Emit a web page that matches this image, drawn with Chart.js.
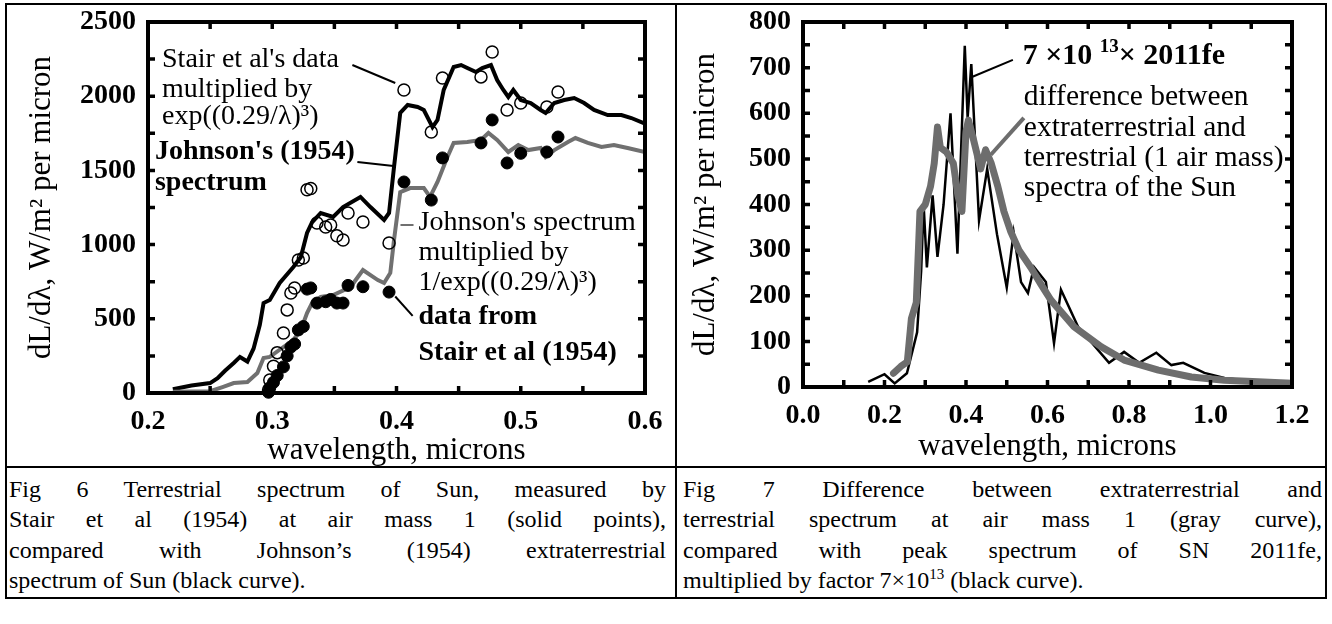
<!DOCTYPE html>
<html>
<head>
<meta charset="utf-8">
<script src="https://cdn.jsdelivr.net/npm/chart.js@4.4.1/dist/chart.umd.min.js"></script>
<style>
  body { margin: 0; width: 1332px; height: 624px; background: #fff; position: relative; overflow: hidden;
         font-family: "Liberation Serif", "Times New Roman", serif; color: #000; }
  .box { position: absolute; left: 5px; top: 3px; width: 1318px; height: 592px; border: 2px solid #000; }
  .vline { position: absolute; left: 675px; top: 3px; width: 2px; height: 596px; background: #000; }
  .hline { position: absolute; left: 5px; top: 466px; width: 1322px; height: 2px; background: #000; }
  canvas { position: absolute; }
  #fig6 { left: 6px; top: 4px; }
  #fig7 { left: 678px; top: 4px; }
  .caption { position: absolute; top: 474px; font-size: 24px; line-height: 30.3px; }
  .caption div { text-align: justify; text-align-last: justify; white-space: normal; }
  .caption div.last { text-align-last: left; }
  .caption sup { font-size: 15px; line-height: 0; }
  #cap6 { left: 9px; width: 657px; }
  #cap7 { left: 683px; width: 639px; }
</style>
</head>
<body>
<div class="box"></div>
<div class="vline"></div>
<div class="hline"></div>
<canvas id="fig6" width="668" height="462"></canvas>
<canvas id="fig7" width="645" height="462"></canvas>
<div class="caption" id="cap6">
  <div>Fig 6 Terrestrial spectrum of Sun, measured by</div>
  <div>Stair et al (1954) at air mass 1 (solid points),</div>
  <div>compared with Johnson’s (1954) extraterrestrial</div>
  <div class="last">spectrum of Sun (black curve).</div>
</div>
<div class="caption" id="cap7">
  <div>Fig 7 Difference between extraterrestrial and</div>
  <div>terrestrial spectrum at air mass 1 (gray curve),</div>
  <div>compared with peak spectrum of SN 2011fe,</div>
  <div class="last">multiplied by factor 7×10<sup>13</sup> (black curve).</div>
</div>
<script>
// ---- Fig 6: Johnson (1954) extraterrestrial spectrum, dL/dλ in W/m² per micron ----
const johnsonWl = [0.220, 0.235, 0.250, 0.256, 0.262, 0.269, 0.274, 0.280, 0.285, 0.290, 0.293, 0.298, 0.306,
  0.317, 0.323, 0.328, 0.332, 0.339, 0.349, 0.357, 0.371, 0.379, 0.390, 0.394, 0.398, 0.403, 0.409, 0.417,
  0.422, 0.429, 0.433, 0.438, 0.446, 0.452, 0.457, 0.464, 0.469, 0.476, 0.481, 0.486, 0.490, 0.494, 0.500,
  0.508, 0.516, 0.520, 0.527, 0.535, 0.543, 0.551, 0.559, 0.570, 0.581, 0.589, 0.600];
const johnsonVal = [25, 50, 67, 100, 150, 202, 243, 212, 300, 460, 606, 627, 741,
  849, 916, 1078, 1150, 1213, 1186, 1253, 1321, 1253, 1166, 1213, 1523, 1887, 1941, 1927,
  1907, 1792, 1840, 2042, 2197, 2210, 2190, 2163, 2190, 2210, 2109, 2042, 1995, 2042, 1974,
  1954, 1907, 1887, 1954, 1974, 1988, 1954, 1907, 1873, 1873, 1853, 1815];

// Johnson's spectrum multiplied by 1/exp((0.29/λ)^3) (gray curve)
const reducedWl = [0.220, 0.250, 0.260, 0.269, 0.280, 0.288, 0.293, 0.298, 0.309, 0.317, 0.323, 0.328, 0.332,
  0.339, 0.349, 0.363, 0.373, 0.385, 0.390, 0.395, 0.398, 0.403, 0.411, 0.422, 0.427, 0.433, 0.441, 0.446,
  0.457, 0.468, 0.474, 0.481, 0.490, 0.498, 0.506, 0.516, 0.520, 0.527, 0.538, 0.544, 0.554, 0.565, 0.575,
  0.586, 0.600];
const reducedVal = [8, 12, 40, 67, 74, 135, 236, 243, 310, 357, 425, 539, 606,
  647, 660, 714, 829, 761, 741, 809, 1031, 1354, 1381, 1381, 1321, 1422, 1590, 1685,
  1691, 1705, 1752, 1705, 1624, 1671, 1637, 1651, 1590, 1637, 1691, 1718, 1685, 1658, 1671,
  1651, 1624];

// Stair et al (1954) points: measured (solid) and multiplied by exp((0.29/λ)^3) (open)
const stairWl = [0.297, 0.298, 0.301, 0.304, 0.309, 0.312, 0.315, 0.318, 0.321, 0.325, 0.328, 0.331, 0.336,
  0.343, 0.347, 0.352, 0.357, 0.361, 0.373, 0.394, 0.406, 0.428, 0.437, 0.468, 0.477, 0.489, 0.500, 0.521, 0.530];
const stairVal = [5, 35, 72, 118, 176, 250, 310, 330, 425, 448, 700, 708, 606,
  615, 630, 606, 606, 725, 716, 680, 1422, 1300, 1584, 1685, 1840, 1550, 1615, 1624, 1725];
const stairCorrVal = [20, 88, 180, 272, 404, 560, 674, 708, 896, 910, 1370, 1378, 1146,
  1119, 1132, 1060, 1031, 1213, 1152, 1011, 2042, 1759, 2123, 2130, 2298, 1907, 1954, 1927, 2028];

// ---- Fig 7: 7e13 x SN 2011fe (black) and extraterrestrial - terrestrial difference (gray) ----
const snWl = [0.160, 0.200, 0.225, 0.255, 0.280, 0.290, 0.296, 0.304, 0.318, 0.330, 0.345, 0.362, 0.379,
  0.397, 0.404, 0.413, 0.432, 0.452, 0.476, 0.500, 0.517, 0.535, 0.552, 0.567, 0.596, 0.616, 0.633,
  0.675, 0.751, 0.788, 0.825, 0.867, 0.904, 0.933, 0.985, 1.034, 1.118, 1.200];
const snVal = [11, 28, 8, 30, 120, 255, 400, 262, 420, 285, 400, 600, 292,
  748, 590, 708, 365, 478, 335, 218, 338, 230, 206, 263, 230, 96, 213,
  132, 53, 77, 53, 75, 48, 53, 31, 20, 11, 8];

const diffWl = [0.222, 0.240, 0.256, 0.266, 0.278, 0.287, 0.300, 0.313, 0.322, 0.330, 0.337, 0.352, 0.369,
  0.380, 0.390, 0.400, 0.406, 0.419, 0.436, 0.448, 0.462, 0.478, 0.493, 0.510, 0.530, 0.559, 0.584,
  0.608, 0.665, 0.732, 0.788, 0.872, 0.953, 1.034, 1.200];
const diffVal = [30, 45, 55, 150, 185, 385, 400, 440, 490, 570, 525, 515, 490,
  420, 385, 560, 585, 540, 478, 520, 490, 440, 385, 340, 300, 262, 225,
  191, 132, 88, 59, 37, 22, 15, 8];

// оси
const fig6XRange = [0.2, 0.6];
const fig6YRange = [0, 2500];
const fig7XRange = [0, 1.2];
const fig7YRange = [0, 800];

const SERIF = "'Liberation Serif', 'Times New Roman', serif";
Chart.defaults.font.family = SERIF;
Chart.defaults.color = "#000";

const toXY = (xs, ys) => xs.map((x, i) => ({ x: x, y: ys[i] }));

// фиксированный размер оси, без добавочных отступов под подписи
function fixAxis(size, vertical) {
  return (s) => {
    if (vertical) s.width = size; else s.height = size;
    s.paddingTop = 0; s.paddingBottom = 0; s.paddingLeft = 0; s.paddingRight = 0;
  };
}

// рамка графика и внутренние засечки
const frameTicksPlugin = {
  id: "frameTicks",
  afterDatasetsDraw(chart, args, opts) {
    const { ctx, chartArea: a, scales: { x, y } } = chart;
    ctx.save();
    ctx.strokeStyle = "#000";
    ctx.lineWidth = 3.5;
    ctx.beginPath();
    const nx = Math.round((x.max - x.min) / opts.xStep);
    for (let i = 1; i < nx; i++) {
      const px = x.getPixelForValue(x.min + i * opts.xStep);
      ctx.moveTo(px, a.bottom); ctx.lineTo(px, a.bottom - opts.len);
      ctx.moveTo(px, a.top); ctx.lineTo(px, a.top + opts.len);
    }
    const ny = Math.round((y.max - y.min) / opts.yStep);
    for (let i = 1; i < ny; i++) {
      const py = y.getPixelForValue(y.min + i * opts.yStep);
      ctx.moveTo(a.left, py); ctx.lineTo(a.left + opts.len, py);
      ctx.moveTo(a.right, py); ctx.lineTo(a.right - opts.len, py);
    }
    ctx.stroke();
    ctx.lineWidth = 4;
    ctx.strokeRect(a.left, a.top, a.right - a.left, a.bottom - a.top);
    ctx.restore();
  },
};

// подписи с выносками
const notesPlugin = {
  id: "notes",
  afterDatasetsDraw(chart, args, opts) {
    const { ctx, scales: { x, y } } = chart;
    ctx.save();
    for (const l of opts.leaders) {
      ctx.strokeStyle = l.color;
      ctx.lineWidth = l.width;
      ctx.beginPath();
      ctx.moveTo(x.getPixelForValue(l.from[0]), y.getPixelForValue(l.from[1]));
      ctx.lineTo(x.getPixelForValue(l.to[0]), y.getPixelForValue(l.to[1]));
      ctx.stroke();
    }
    ctx.fillStyle = "#000";
    ctx.textAlign = "left";
    ctx.textBaseline = "middle";
    for (const t of opts.texts) {
      let px = x.getPixelForValue(t.x);
      const py = y.getPixelForValue(t.y);
      const parts = Array.isArray(t.text) ? t.text : [{ s: t.text }];
      for (const p of parts) {
        ctx.font = p.sup ? t.supFont : t.font;
        ctx.fillText(p.s, px, p.sup ? py - 10 : py);
        px += ctx.measureText(p.s).width;
      }
    }
    ctx.restore();
  },
};

const tickFont = { size: 28, weight: "bold", family: SERIF };
const titleFont = { size: 31, family: SERIF, lineHeight: 1 };
const noteFont = "28px " + SERIF;
const noteBold = "bold 28px " + SERIF;
const noteFont7 = "29.5px " + SERIF;

new Chart(document.getElementById("fig6"), {
  type: "scatter",
  data: {
    datasets: [
      { data: toXY(stairWl, stairVal), pointRadius: 6, borderWidth: 1, borderColor: "#000",
        backgroundColor: "#000", order: 0, clip: false },
      { data: toXY(stairWl, stairCorrVal), pointRadius: 6, borderWidth: 1.5, borderColor: "#000",
        backgroundColor: "rgba(255,255,255,0)", order: 1, clip: false },
      { data: toXY(reducedWl, reducedVal), showLine: true, pointRadius: 0, borderColor: "#707070",
        borderWidth: 4, order: 2 },
      { data: toXY(johnsonWl, johnsonVal), showLine: true, pointRadius: 0, borderColor: "#000",
        borderWidth: 4, order: 3 },
    ],
  },
  plugins: [frameTicksPlugin, notesPlugin],
  options: {
    responsive: false,
    animation: false,
    devicePixelRatio: 1,
    layout: { autoPadding: false, padding: { top: 18, right: 29, left: 0, bottom: 0 } },
    scales: {
      x: {
        type: "linear", min: fig6XRange[0], max: fig6XRange[1],
        ticks: { stepSize: 0.1, font: tickFont, padding: 12, maxRotation: 0,
          callback: (v) => v.toFixed(1) },
        grid: { display: false, drawTicks: false },
        border: { display: false },
        title: { display: true, text: "wavelength, microns", font: titleFont, padding: { top: 0, bottom: 0 } },
        afterFit: fixAxis(73, false),
      },
      y: {
        min: fig6YRange[0], max: fig6YRange[1],
        ticks: { stepSize: 500, font: tickFont, padding: 12, callback: (v) => String(v) },
        grid: { display: false, drawTicks: false },
        border: { display: false },
        title: { display: true, text: "dL/dλ, W/m² per micron", font: titleFont, padding: { top: 20, bottom: 0 } },
        afterFit: fixAxis(142, true),
      },
    },
    plugins: {
      legend: { display: false },
      tooltip: { enabled: false },
      frameTicks: { xStep: 0.05, yStep: 250, len: 7 },
      notes: {
        texts: [
          { x: 0.2113, y: 2244, text: "Stair et al's data", font: noteFont },
          { x: 0.2113, y: 2042, text: "multiplied by", font: noteFont },
          { x: 0.2113, y: 1860, text: "exp((0.29/λ)³)", font: noteFont },
          { x: 0.2056, y: 1624, text: "Johnson's (1954)", font: noteBold },
          { x: 0.2056, y: 1415, text: "spectrum", font: noteBold },
          { x: 0.4177, y: 1146, text: "Johnson's spectrum", font: noteFont },
          { x: 0.4177, y: 943, text: "multiplied by", font: noteFont },
          { x: 0.4177, y: 741, text: "1/exp((0.29/λ)³)", font: noteFont },
          { x: 0.4177, y: 512, text: "data from", font: noteBold },
          { x: 0.4177, y: 270, text: "Stair et al (1954)", font: noteBold },
        ],
        leaders: [
          { from: [0.3645, 2210], to: [0.3990, 2089], color: "#000", width: 2 },
          { from: [0.3685, 1557], to: [0.3976, 1530], color: "#000", width: 2 },
          { from: [0.4032, 1132], to: [0.4137, 1132], color: "#707070", width: 2 },
          { from: [0.3990, 650], to: [0.4130, 520], color: "#000", width: 2 },
        ],
      },
    },
  },
});

new Chart(document.getElementById("fig7"), {
  type: "scatter",
  data: {
    datasets: [
      { data: toXY(diffWl, diffVal), showLine: true, pointRadius: 0, borderColor: "#6d6d6d",
        borderWidth: 7, borderJoinStyle: "round", borderCapStyle: "round", order: 0 },
      { data: toXY(snWl, snVal), showLine: true, pointRadius: 0, borderColor: "#000",
        borderWidth: 2.5, order: 1 },
    ],
  },
  plugins: [frameTicksPlugin, notesPlugin],
  options: {
    responsive: false,
    animation: false,
    devicePixelRatio: 1,
    layout: { autoPadding: false, padding: { top: 18, right: 31, left: 0, bottom: 0 } },
    scales: {
      x: {
        type: "linear", min: fig7XRange[0], max: fig7XRange[1],
        ticks: { stepSize: 0.2, font: tickFont, padding: 12, maxRotation: 0,
          callback: (v) => v.toFixed(1) },
        grid: { display: false, drawTicks: false },
        border: { display: false },
        title: { display: true, text: "wavelength, microns", font: titleFont, padding: { top: 0, bottom: 4 } },
        afterFit: fixAxis(79, false),
      },
      y: {
        min: fig7YRange[0], max: fig7YRange[1],
        ticks: { stepSize: 100, font: tickFont, padding: 12, callback: (v) => String(v) },
        grid: { display: false, drawTicks: false },
        border: { display: false },
        title: { display: true, text: "dL/dλ, W/m² per micron", font: titleFont, padding: { top: 12, bottom: 0 } },
        afterFit: fixAxis(125, true),
      },
    },
    plugins: {
      legend: { display: false },
      tooltip: { enabled: false },
      frameTicks: { xStep: 0.1, yStep: 50, len: 7 },
      notes: {
        texts: [
          { x: 0.539, y: 724, font: "bold 30px " + SERIF, supFont: "bold 19px " + SERIF,
            text: [{ s: "7 ×10 " }, { s: "13", sup: true }, { s: "× 2011fe" }] },
          { x: 0.542, y: 636, text: "difference between", font: noteFont7 },
          { x: 0.542, y: 568, text: "extraterrestrial and", font: noteFont7 },
          { x: 0.542, y: 502, text: "terrestrial (1 air mass)", font: noteFont7 },
          { x: 0.542, y: 436, text: "spectra of the Sun", font: noteFont7 },
        ],
        leaders: [
          { from: [0.416, 680], to: [0.515, 717], color: "#000", width: 2 },
          { from: [0.542, 590], to: [0.461, 509], color: "#6d6d6d", width: 4 },
        ],
      },
    },
  },
});
</script>
</body>
</html>
